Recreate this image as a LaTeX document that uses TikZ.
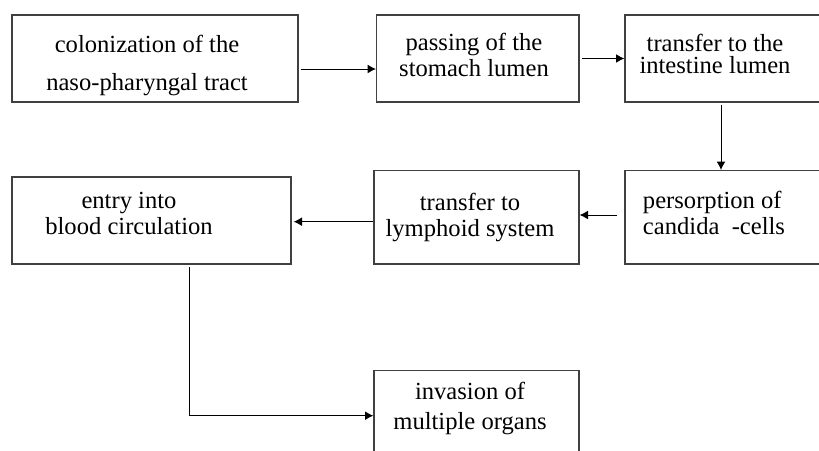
\documentclass[tikz,border=0pt]{standalone}
\usepackage{fontspec}
\setmainfont{Liberation Serif}
\usetikzlibrary{arrows.meta,calc,positioning}

\begin{document}
\begin{tikzpicture}[x=0.5pt, y=-0.5pt, >={Latex[length=4.2pt,width=4.4pt]}]

    % Styles
    \tikzset{
        box/.style={rectangle, draw=black!75, line width=0.6pt, inner sep=0pt, minimum height=43.5pt},
        txt/.style={inner sep=0pt, align=center, font=\fontsize{12.3}{13}\selectfont},
        arr/.style={->, line width=0.5pt, black}
    }

    % Frame of the picture
    \useasboundingbox (0,0) rectangle (819,450);
    \clip (0,0) rectangle (819,450);

    % Boxes
    \node[box, minimum width=143pt] (colon) at (155,58.5) {};
    \node[box, minimum width=101.2pt] (stomach) at (477.8,58.5) {};
    \node[box, minimum width=105pt] (intestine) at (730,58.5) {};
    \node[box, minimum width=105pt, minimum height=46.7pt] (persorp) at (730,217.3) {};
    \node[box, minimum width=102.5pt, minimum height=46.7pt] (lymph) at (476.5,217.3) {};
    \node[box, minimum width=139.5pt] (entry) at (151.5,220.5) {};
    \node[box, minimum width=102.5pt, minimum height=50pt] (invasion) at (476.5,420.7) {};

    % Texts
    \node[txt, font=\fontsize{12.3}{19}\selectfont] (colonText) at (147,65.5) {colonization of the\\naso-pharyngal tract};
    \node[txt, font=\fontsize{12.3}{12.8}\selectfont] (stomachText) at (474,55) {passing of the\\stomach lumen};
    \node[txt, font=\fontsize{12.3}{11.2}\selectfont] (intestineText) at (715,54) {transfer to the\\intestine lumen};
    \node[txt, align=left] (persorpText) at (714,212.8) {persorption of\\candida~ -cells};
    \node[txt] (lymphText) at (470,217.8) {transfer to\\lymphoid system};
    \node[txt] (entryText) at (129,213.7) {entry into\\blood circulation};
    \node[txt, font=\fontsize{12.3}{15}\selectfont] (invasionText) at (470,408.2) {invasion of\\multiple organs};

    % Arrows
    \draw[arr, shorten <=1pt] ([yshift=-5.25pt]colon.east) -- ([yshift=-5.25pt]stomach.west);
    \draw[arr, shorten <=1pt] (stomach.east) -- (intestine.west);
    \draw[arr, shorten <=1pt] ([xshift=-4.5pt]intestine.south) -- ([xshift=-4.5pt]persorp.north);
    \draw[arr, shorten <=3.7pt] ([yshift=1.15pt]persorp.west) -- ([yshift=1.15pt]lymph.east);
    \draw[arr, shorten >=1pt] ([yshift=-2.2pt]lymph.west) coordinate (lymphOut) -- (entry.east |- lymphOut);
    \draw[arr, shorten <=1.3pt] ([xshift=18.75pt]entry.south) |- ([yshift=2.5pt]invasion.west);

\end{tikzpicture}
\end{document}
